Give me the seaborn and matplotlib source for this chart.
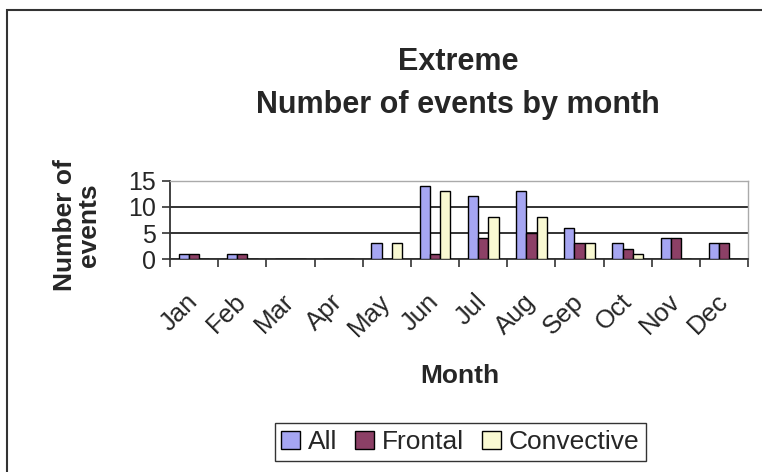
import matplotlib
matplotlib.use("Agg")
import matplotlib.pyplot as plt
import seaborn as sns
import pandas as pd
import numpy as np
from matplotlib.patches import Rectangle

months = ["Jan", "Feb", "Mar", "Apr", "May", "Jun", "Jul", "Aug", "Sep", "Oct", "Nov", "Dec"]
all_events = [1, 1, 0, 0, 3, 14, 12, 13, 6, 3, 4, 3]
frontal = [1, 1, 0, 0, 0, 1, 4, 5, 3, 2, 4, 3]
convective = [0, 0, 0, 0, 3, 13, 8, 8, 3, 1, 0, 0]
series_names = ["All", "Frontal", "Convective"]
colors = ["#9999FF", "#993366", "#FFFFCC"]
yticks = [0, 5, 10, 15]

df = pd.DataFrame({
    "Month": months * 3,
    "Count": all_events + frontal + convective,
    "Series": [series_names[0]] * 12 + [series_names[1]] * 12 + [series_names[2]] * 12,
})

sns.set_theme(style="white")
plt.rcParams["font.family"] = ["Liberation Sans", "DejaVu Sans"]

fig = plt.figure(figsize=(7.62, 4.72), dpi=100)
ax = fig.add_axes([0.223, 0.451, 0.759, 0.166])

sns.barplot(data=df, x="Month", y="Count", hue="Series", order=months,
            hue_order=series_names, palette=colors, width=0.64,
            edgecolor="black", linewidth=1.0, ax=ax, legend=True, zorder=3)

ax.set_ylim(0, 15)
ax.set_xlim(-0.5, 11.5)
ax.set_yticks(yticks)
ax.set_yticklabels([str(v) for v in yticks], fontsize=18)
for v in yticks:
    ax.axhline(v, color="#222222", linewidth=1.3, zorder=1)

ax.set_xticks(range(12))
ax.set_xticklabels(months, rotation=45, ha="right", va="center", rotation_mode="anchor", fontsize=18.5)
ax.set_xticks(np.arange(-0.5, 12.0, 1.0), minor=True)
ax.tick_params(axis="x", which="major", length=0, pad=28)
ax.tick_params(axis="x", which="minor", length=6, width=1.2, color="#333333", direction="out", bottom=True)
ax.tick_params(axis="y", length=6, width=1.2, color="#333333", direction="out", left=True, pad=4)

for side in ["top", "right"]:
    ax.spines[side].set_color("#aaaaaa")
    ax.spines[side].set_linewidth(1.0)
for side in ["left", "bottom"]:
    ax.spines[side].set_color("#333333")
    ax.spines[side].set_linewidth(1.3)

ax.set_xlabel("")
ax.set_ylabel("")
fig.text(0.604, 1 - 376 / 472, "Month", ha="center", va="center", fontsize=19, fontweight="bold")
fig.text(77 / 762, 1 - 225 / 472, "Number of\nevents", ha="center", va="center", rotation=90,
         fontsize=19, fontweight="bold", linespacing=1.0)

fig.text(0.601, 1 - 62 / 472, "Extreme", ha="center", va="center", fontsize=22, fontweight="bold")
fig.text(0.601, 1 - 105 / 472, "Number of events by month", ha="center", va="center", fontsize=22, fontweight="bold")

leg = ax.get_legend()
handles = leg.legend_handles
leg.remove()
fig.legend(handles, series_names, loc="center", bbox_to_anchor=(0.604, 1 - 442 / 472), ncol=3,
           fontsize=19, frameon=True, fancybox=False, edgecolor="black",
           handlelength=0.7, handleheight=0.7, handletextpad=0.3, columnspacing=0.7,
           borderpad=0.25)

fig.patches.append(Rectangle((0.009, -0.1), 1.1, 1.079, transform=fig.transFigure,
                             fill=False, edgecolor="#333333", linewidth=1.5))

fig.savefig("out.png", dpi=100)
